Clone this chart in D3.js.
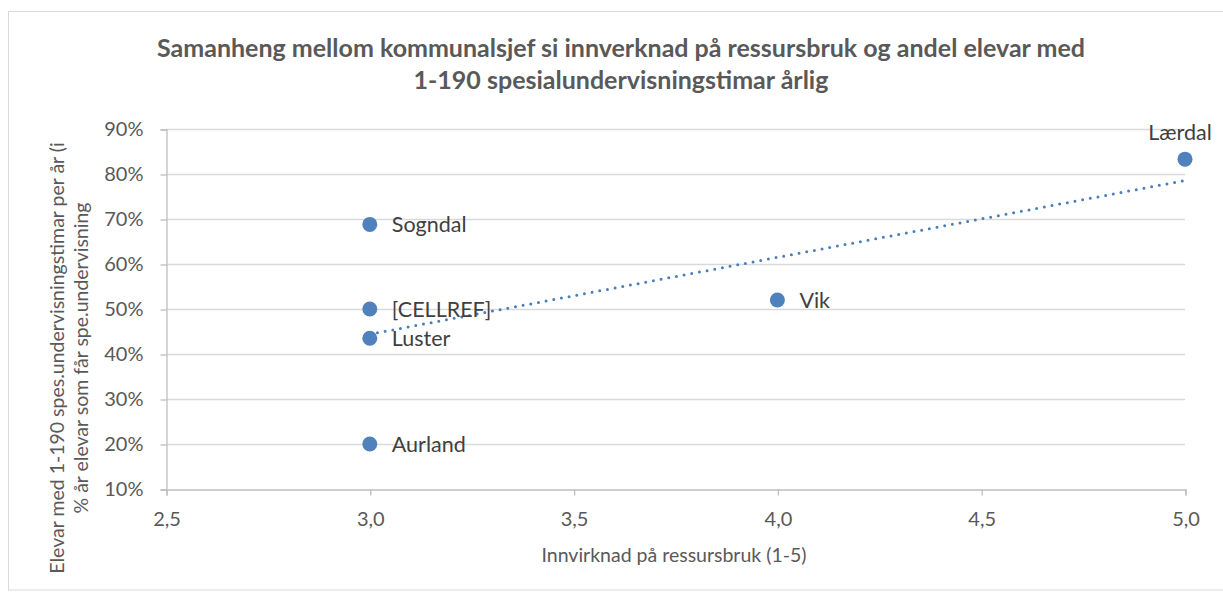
<!DOCTYPE html>
<html><head><meta charset="utf-8">
<script src="https://cdn.jsdelivr.net/npm/d3@7"></script>
<style>body{margin:0;background:#fff;} text{font-family:Lato,"Open Sans",sans-serif;}</style>
</head><body>
<svg id="chart" width="1223" height="592"></svg>
<script>
const names = ["Lærdal","Sogndal","[CELLREF]","Luster","Aurland","Vik"];
const xValues = [5.0, 3.0, 3.0, 3.0, 3.0, 4.0];
const yValues = [0.833, 0.688, 0.50, 0.435, 0.20, 0.52];
const labelPos = ["top","right","right","right","right","right"];
const xTicks = [2.5,3.0,3.5,4.0,4.5,5.0];
const yTicks = [0.1,0.2,0.3,0.4,0.5,0.6,0.7,0.8,0.9];
const titleLines = ["Samanheng mellom kommunalsjef si innverknad på ressursbruk og andel elevar med","1-190 spesialundervisningstimar årlig"];
const xTitle = "Innvirknad på ressursbruk (1-5)";
const yTitleLines = ["Elevar med 1-190 spes.undervisningstimar per år (i","% år elevar som får spe.undervisning"];

const svg = d3.select("#chart");
svg.append("rect").attr("x",8.5).attr("y",11.5).attr("width",1230).attr("height",578.5)
  .attr("fill","#fff").attr("stroke","#d9d9d9");

const x = d3.scaleLinear().domain([2.5,5.0]).range([166,1185]);
const y = d3.scaleLinear().domain([0.1,0.9]).range([489,129]);

// gridlines
svg.append("g").selectAll("line").data(yTicks.slice(1)).join("line")
  .attr("x1",x(2.5)).attr("x2",x(5.0)).attr("y1",d=>y(d)+0.5).attr("y2",d=>y(d)+0.5)
  .attr("stroke","#d9d9d9").attr("stroke-width",1.3);

// y axis
const yAxis = d3.axisLeft(y).tickValues(yTicks).tickFormat(d=>Math.round(d*100)+"%").tickSize(6).tickPadding(17);
const gy = svg.append("g").attr("transform",`translate(${x(2.5)+0.5},0.5)`).call(yAxis);
gy.select(".domain").attr("stroke","#bfbfbf").attr("stroke-width",1.3);
gy.selectAll(".tick line").attr("stroke","#bfbfbf").attr("stroke-width",1.3);
gy.selectAll(".tick text").attr("fill","#595959").style("font-size","20px").attr("font-family","Lato");

// x axis
const xAxis = d3.axisBottom(x).tickValues(xTicks).tickFormat(d=>d3.format(".1f")(d).replace(".",",")).tickSize(6).tickPadding(16);
const gx = svg.append("g").attr("transform",`translate(0.5,${y(0.1)+0.5})`).call(xAxis);
gx.select(".domain").attr("stroke","#bfbfbf").attr("stroke-width",1.3);
gx.selectAll(".tick line").attr("stroke","#bfbfbf").attr("stroke-width",1.3);
gx.selectAll(".tick text").attr("fill","#595959").style("font-size","20px").attr("font-family","Lato");

// trendline (least squares)
const n=xValues.length, mx=d3.mean(xValues), my=d3.mean(yValues);
let sxy=0,sxx=0; for(let i=0;i<n;i++){sxy+=(xValues[i]-mx)*(yValues[i]-my);sxx+=(xValues[i]-mx)**2;}
const slope=sxy/sxx, icpt=my-slope*mx;
const xmin=d3.min(xValues), xmax=d3.max(xValues);
svg.append("line").attr("x1",x(xmin)).attr("y1",y(icpt+slope*xmin)).attr("x2",x(xmax)).attr("y2",y(icpt+slope*xmax))
  .attr("stroke","#4a7ebb").attr("stroke-width",3).attr("stroke-linecap","round").attr("stroke-dasharray","0,7.8");

// points
const data = names.map((nm,i)=>({nm,x:xValues[i],y:yValues[i],pos:labelPos[i]}));
svg.append("g").selectAll("circle").data(data).join("circle")
  .attr("cx",d=>x(d.x)).attr("cy",d=>y(d.y)).attr("r",7.5).attr("fill","#4f81bd");

svg.append("g").selectAll("text").data(data).join("text")
  .attr("x",d=>d.pos==="top"?x(d.x)-5:x(d.x)+22)
  .attr("y",d=>d.pos==="top"?y(d.y)-19:y(d.y)+7.5)
  .attr("text-anchor",d=>d.pos==="top"?"middle":"start")
  .attr("fill","#404040").style("font-size","21.5px").text(d=>d.nm);

// title
svg.append("g").selectAll("text").data(titleLines).join("text")
  .attr("x",621).attr("y",(d,i)=>57+i*32).attr("text-anchor","middle")
  .attr("fill","#595959").style("font-size","25px").style("font-weight","bold").text(d=>d);

// x title
svg.append("text").attr("x",674).attr("y",562).attr("text-anchor","middle")
  .attr("fill","#595959").style("font-size","19.5px").text(xTitle);

// y title
svg.append("g").selectAll("text").data(yTitleLines).join("text")
  .attr("transform",(d,i)=>`translate(${64+i*24},358) rotate(-90)`).attr("text-anchor","middle")
  .attr("fill","#595959").style("font-size","19.5px").text(d=>d);
</script>
</body></html>
